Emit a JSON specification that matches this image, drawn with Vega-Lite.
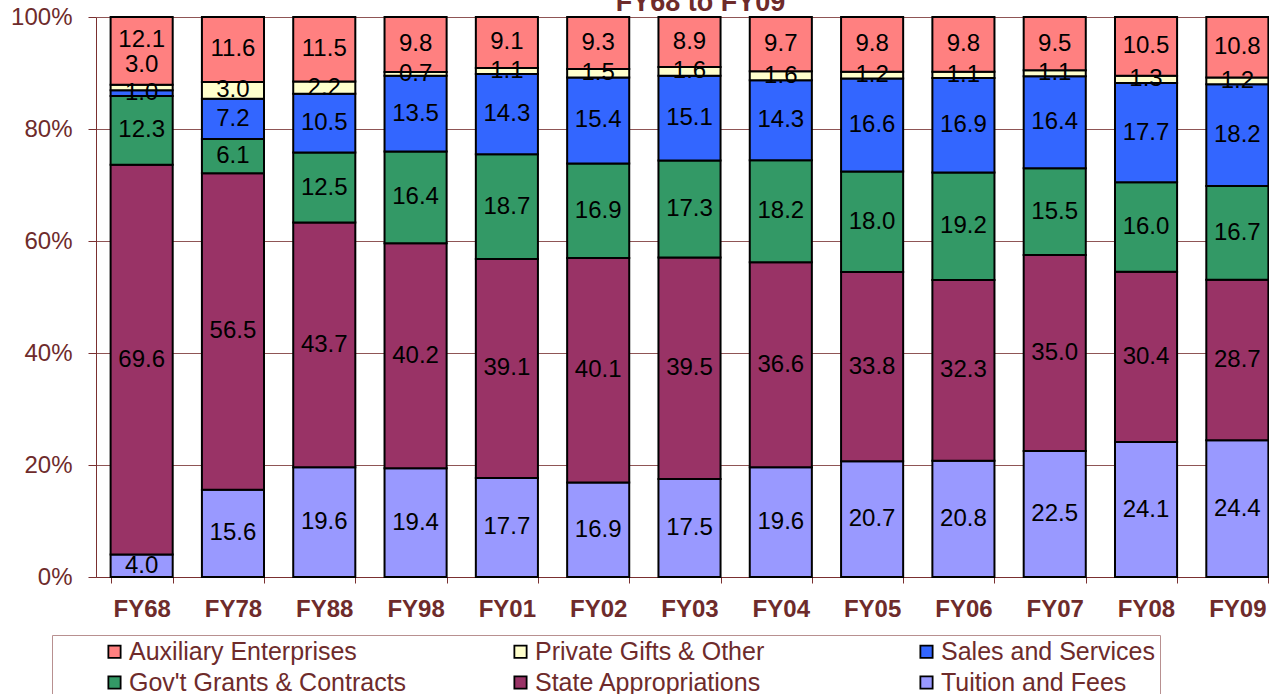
{
  "$schema": "https://vega.github.io/schema/vega-lite/v6.json",
  "width": 1187,
  "height": 560,
  "autosize": {"type": "none"},
  "padding": {"left": 96, "top": 17, "right": 0, "bottom": 117},
  "background": "white",
  "title": {"text": "FY68 to FY09", "fontSize": 27, "fontWeight": "bold", "color": "#6e2b2b", "font": "Liberation Sans", "offset": -12, "dx": 11},
  "config": {"view": {"stroke": null}, "font": "Liberation Sans"},
  "data": {"values": [
    {"year": "FY68", "cat": "Tuition and Fees", "ord": 1, "value": 4.0, "label": "4.0"},
    {"year": "FY68", "cat": "State Appropriations", "ord": 2, "value": 69.6, "label": "69.6"},
    {"year": "FY68", "cat": "Gov't Grants & Contracts", "ord": 3, "value": 12.3, "label": "12.3"},
    {"year": "FY68", "cat": "Sales and Services", "ord": 4, "value": 1.0, "label": "1.0"},
    {"year": "FY68", "cat": "Private Gifts & Other", "ord": 5, "value": 1.0, "label": ""},
    {"year": "FY68", "cat": "Auxiliary Enterprises", "ord": 6, "value": 12.1, "label": "12.1\n3.0", "ml": true},
    {"year": "FY78", "cat": "Tuition and Fees", "ord": 1, "value": 15.6, "label": "15.6"},
    {"year": "FY78", "cat": "State Appropriations", "ord": 2, "value": 56.5, "label": "56.5"},
    {"year": "FY78", "cat": "Gov't Grants & Contracts", "ord": 3, "value": 6.1, "label": "6.1"},
    {"year": "FY78", "cat": "Sales and Services", "ord": 4, "value": 7.2, "label": "7.2"},
    {"year": "FY78", "cat": "Private Gifts & Other", "ord": 5, "value": 3.0, "label": "3.0"},
    {"year": "FY78", "cat": "Auxiliary Enterprises", "ord": 6, "value": 11.6, "label": "11.6"},
    {"year": "FY88", "cat": "Tuition and Fees", "ord": 1, "value": 19.6, "label": "19.6"},
    {"year": "FY88", "cat": "State Appropriations", "ord": 2, "value": 43.7, "label": "43.7"},
    {"year": "FY88", "cat": "Gov't Grants & Contracts", "ord": 3, "value": 12.5, "label": "12.5"},
    {"year": "FY88", "cat": "Sales and Services", "ord": 4, "value": 10.5, "label": "10.5"},
    {"year": "FY88", "cat": "Private Gifts & Other", "ord": 5, "value": 2.2, "label": "2.2"},
    {"year": "FY88", "cat": "Auxiliary Enterprises", "ord": 6, "value": 11.5, "label": "11.5"},
    {"year": "FY98", "cat": "Tuition and Fees", "ord": 1, "value": 19.4, "label": "19.4"},
    {"year": "FY98", "cat": "State Appropriations", "ord": 2, "value": 40.2, "label": "40.2"},
    {"year": "FY98", "cat": "Gov't Grants & Contracts", "ord": 3, "value": 16.4, "label": "16.4"},
    {"year": "FY98", "cat": "Sales and Services", "ord": 4, "value": 13.5, "label": "13.5"},
    {"year": "FY98", "cat": "Private Gifts & Other", "ord": 5, "value": 0.7, "label": "0.7"},
    {"year": "FY98", "cat": "Auxiliary Enterprises", "ord": 6, "value": 9.8, "label": "9.8"},
    {"year": "FY01", "cat": "Tuition and Fees", "ord": 1, "value": 17.7, "label": "17.7"},
    {"year": "FY01", "cat": "State Appropriations", "ord": 2, "value": 39.1, "label": "39.1"},
    {"year": "FY01", "cat": "Gov't Grants & Contracts", "ord": 3, "value": 18.7, "label": "18.7"},
    {"year": "FY01", "cat": "Sales and Services", "ord": 4, "value": 14.3, "label": "14.3"},
    {"year": "FY01", "cat": "Private Gifts & Other", "ord": 5, "value": 1.1, "label": "1.1"},
    {"year": "FY01", "cat": "Auxiliary Enterprises", "ord": 6, "value": 9.1, "label": "9.1"},
    {"year": "FY02", "cat": "Tuition and Fees", "ord": 1, "value": 16.9, "label": "16.9"},
    {"year": "FY02", "cat": "State Appropriations", "ord": 2, "value": 40.1, "label": "40.1"},
    {"year": "FY02", "cat": "Gov't Grants & Contracts", "ord": 3, "value": 16.9, "label": "16.9"},
    {"year": "FY02", "cat": "Sales and Services", "ord": 4, "value": 15.4, "label": "15.4"},
    {"year": "FY02", "cat": "Private Gifts & Other", "ord": 5, "value": 1.5, "label": "1.5"},
    {"year": "FY02", "cat": "Auxiliary Enterprises", "ord": 6, "value": 9.3, "label": "9.3"},
    {"year": "FY03", "cat": "Tuition and Fees", "ord": 1, "value": 17.5, "label": "17.5"},
    {"year": "FY03", "cat": "State Appropriations", "ord": 2, "value": 39.5, "label": "39.5"},
    {"year": "FY03", "cat": "Gov't Grants & Contracts", "ord": 3, "value": 17.3, "label": "17.3"},
    {"year": "FY03", "cat": "Sales and Services", "ord": 4, "value": 15.1, "label": "15.1"},
    {"year": "FY03", "cat": "Private Gifts & Other", "ord": 5, "value": 1.6, "label": "1.6"},
    {"year": "FY03", "cat": "Auxiliary Enterprises", "ord": 6, "value": 8.9, "label": "8.9"},
    {"year": "FY04", "cat": "Tuition and Fees", "ord": 1, "value": 19.6, "label": "19.6"},
    {"year": "FY04", "cat": "State Appropriations", "ord": 2, "value": 36.6, "label": "36.6"},
    {"year": "FY04", "cat": "Gov't Grants & Contracts", "ord": 3, "value": 18.2, "label": "18.2"},
    {"year": "FY04", "cat": "Sales and Services", "ord": 4, "value": 14.3, "label": "14.3"},
    {"year": "FY04", "cat": "Private Gifts & Other", "ord": 5, "value": 1.6, "label": "1.6"},
    {"year": "FY04", "cat": "Auxiliary Enterprises", "ord": 6, "value": 9.7, "label": "9.7"},
    {"year": "FY05", "cat": "Tuition and Fees", "ord": 1, "value": 20.7, "label": "20.7"},
    {"year": "FY05", "cat": "State Appropriations", "ord": 2, "value": 33.8, "label": "33.8"},
    {"year": "FY05", "cat": "Gov't Grants & Contracts", "ord": 3, "value": 18.0, "label": "18.0"},
    {"year": "FY05", "cat": "Sales and Services", "ord": 4, "value": 16.6, "label": "16.6"},
    {"year": "FY05", "cat": "Private Gifts & Other", "ord": 5, "value": 1.2, "label": "1.2"},
    {"year": "FY05", "cat": "Auxiliary Enterprises", "ord": 6, "value": 9.8, "label": "9.8"},
    {"year": "FY06", "cat": "Tuition and Fees", "ord": 1, "value": 20.8, "label": "20.8"},
    {"year": "FY06", "cat": "State Appropriations", "ord": 2, "value": 32.3, "label": "32.3"},
    {"year": "FY06", "cat": "Gov't Grants & Contracts", "ord": 3, "value": 19.2, "label": "19.2"},
    {"year": "FY06", "cat": "Sales and Services", "ord": 4, "value": 16.9, "label": "16.9"},
    {"year": "FY06", "cat": "Private Gifts & Other", "ord": 5, "value": 1.1, "label": "1.1"},
    {"year": "FY06", "cat": "Auxiliary Enterprises", "ord": 6, "value": 9.8, "label": "9.8"},
    {"year": "FY07", "cat": "Tuition and Fees", "ord": 1, "value": 22.5, "label": "22.5"},
    {"year": "FY07", "cat": "State Appropriations", "ord": 2, "value": 35.0, "label": "35.0"},
    {"year": "FY07", "cat": "Gov't Grants & Contracts", "ord": 3, "value": 15.5, "label": "15.5"},
    {"year": "FY07", "cat": "Sales and Services", "ord": 4, "value": 16.4, "label": "16.4"},
    {"year": "FY07", "cat": "Private Gifts & Other", "ord": 5, "value": 1.1, "label": "1.1"},
    {"year": "FY07", "cat": "Auxiliary Enterprises", "ord": 6, "value": 9.5, "label": "9.5"},
    {"year": "FY08", "cat": "Tuition and Fees", "ord": 1, "value": 24.1, "label": "24.1"},
    {"year": "FY08", "cat": "State Appropriations", "ord": 2, "value": 30.4, "label": "30.4"},
    {"year": "FY08", "cat": "Gov't Grants & Contracts", "ord": 3, "value": 16.0, "label": "16.0"},
    {"year": "FY08", "cat": "Sales and Services", "ord": 4, "value": 17.7, "label": "17.7"},
    {"year": "FY08", "cat": "Private Gifts & Other", "ord": 5, "value": 1.3, "label": "1.3"},
    {"year": "FY08", "cat": "Auxiliary Enterprises", "ord": 6, "value": 10.5, "label": "10.5"},
    {"year": "FY09", "cat": "Tuition and Fees", "ord": 1, "value": 24.4, "label": "24.4"},
    {"year": "FY09", "cat": "State Appropriations", "ord": 2, "value": 28.7, "label": "28.7"},
    {"year": "FY09", "cat": "Gov't Grants & Contracts", "ord": 3, "value": 16.7, "label": "16.7"},
    {"year": "FY09", "cat": "Sales and Services", "ord": 4, "value": 18.2, "label": "18.2"},
    {"year": "FY09", "cat": "Private Gifts & Other", "ord": 5, "value": 1.2, "label": "1.2"},
    {"year": "FY09", "cat": "Auxiliary Enterprises", "ord": 6, "value": 10.8, "label": "10.8"}
  ]},
  "encoding": {
    "x": {
      "field": "year", "type": "nominal", "sort": null,
      "scale": {"paddingInner": 0.32, "paddingOuter": 0.16},
      "axis": {
        "title": null, "labelAngle": 0, "labelFontSize": 24, "labelFontWeight": "bold",
        "labelColor": "#6e2b2b", "labelFont": "Liberation Sans", "domainColor": "#7a3030",
        "tickColor": "#7a3030", "tickSize": 6, "tickBand": "extent", "labelPadding": 14
      }
    },
    "order": {"field": "ord", "type": "quantitative"}
  },
  "layer": [
    {
      "mark": {"type": "bar", "stroke": "black", "strokeWidth": 2},
      "encoding": {
        "y": {
          "field": "value", "type": "quantitative", "stack": "normalize",
          "scale": {"domain": [0, 1]},
          "axis": {
            "title": null, "values": [0, 0.2, 0.4, 0.6, 0.8, 1], "format": ".0%",
            "labelFontSize": 24, "labelColor": "#6e2b2b", "labelFont": "Liberation Sans",
            "domainColor": "#7a3030", "tickColor": "#7a3030", "tickSize": 8, "labelPadding": 16,
            "grid": true, "gridColor": "#8f5555"
          }
        },
        "color": {
          "field": "cat", "type": "nominal",
          "scale": {
            "domain": ["Auxiliary Enterprises", "Private Gifts & Other", "Sales and Services", "Gov't Grants & Contracts", "State Appropriations", "Tuition and Fees"],
            "range": ["#ff8080", "#ffffcc", "#3366ff", "#339966", "#993366", "#9999ff"]
          },
          "legend": {
            "orient": "none", "legendX": -44, "legendY": 618, "direction": "horizontal",
            "columns": 3, "gridAlign": "all", "columnPadding": 101, "rowPadding": 5,
            "title": "WW", "titleOrient": "left", "titleFontSize": 20, "titlePadding": 8,
            "titleOpacity": 0, "titleColor": "white",
            "padding": 4, "strokeColor": "#b89090",
            "labelFontSize": 25, "labelColor": "#6e2b2b", "labelFont": "Liberation Sans", "labelLimit": 0,
            "labelOffset": 2, "symbolType": "square", "symbolSize": 150,
            "symbolStrokeColor": "black", "symbolStrokeWidth": 1.8, "symbolOpacity": 1
          }
        }
      }
    },
    {
      "mark": {"type": "text", "fontSize": 24, "color": "black", "baseline": "middle", "font": "Liberation Sans"},
      "encoding": {
        "y": {"field": "value", "type": "quantitative", "stack": "normalize", "bandPosition": 0.5},
        "detail": {"field": "cat"},
        "text": {"condition": {"test": "datum.ml", "value": ""}, "field": "label"}
      }
    },
    {
      "mark": {"type": "text", "fontSize": 24, "color": "black", "lineBreak": "\n", "baseline": "middle", "font": "Liberation Sans", "lineHeight": 25, "dy": -11},
      "encoding": {
        "y": {"field": "value", "type": "quantitative", "stack": "normalize", "bandPosition": 0.5},
        "detail": {"field": "cat"},
        "text": {"condition": {"test": "datum.ml", "field": "label"}, "value": ""}
      }
    }
  ]
}
